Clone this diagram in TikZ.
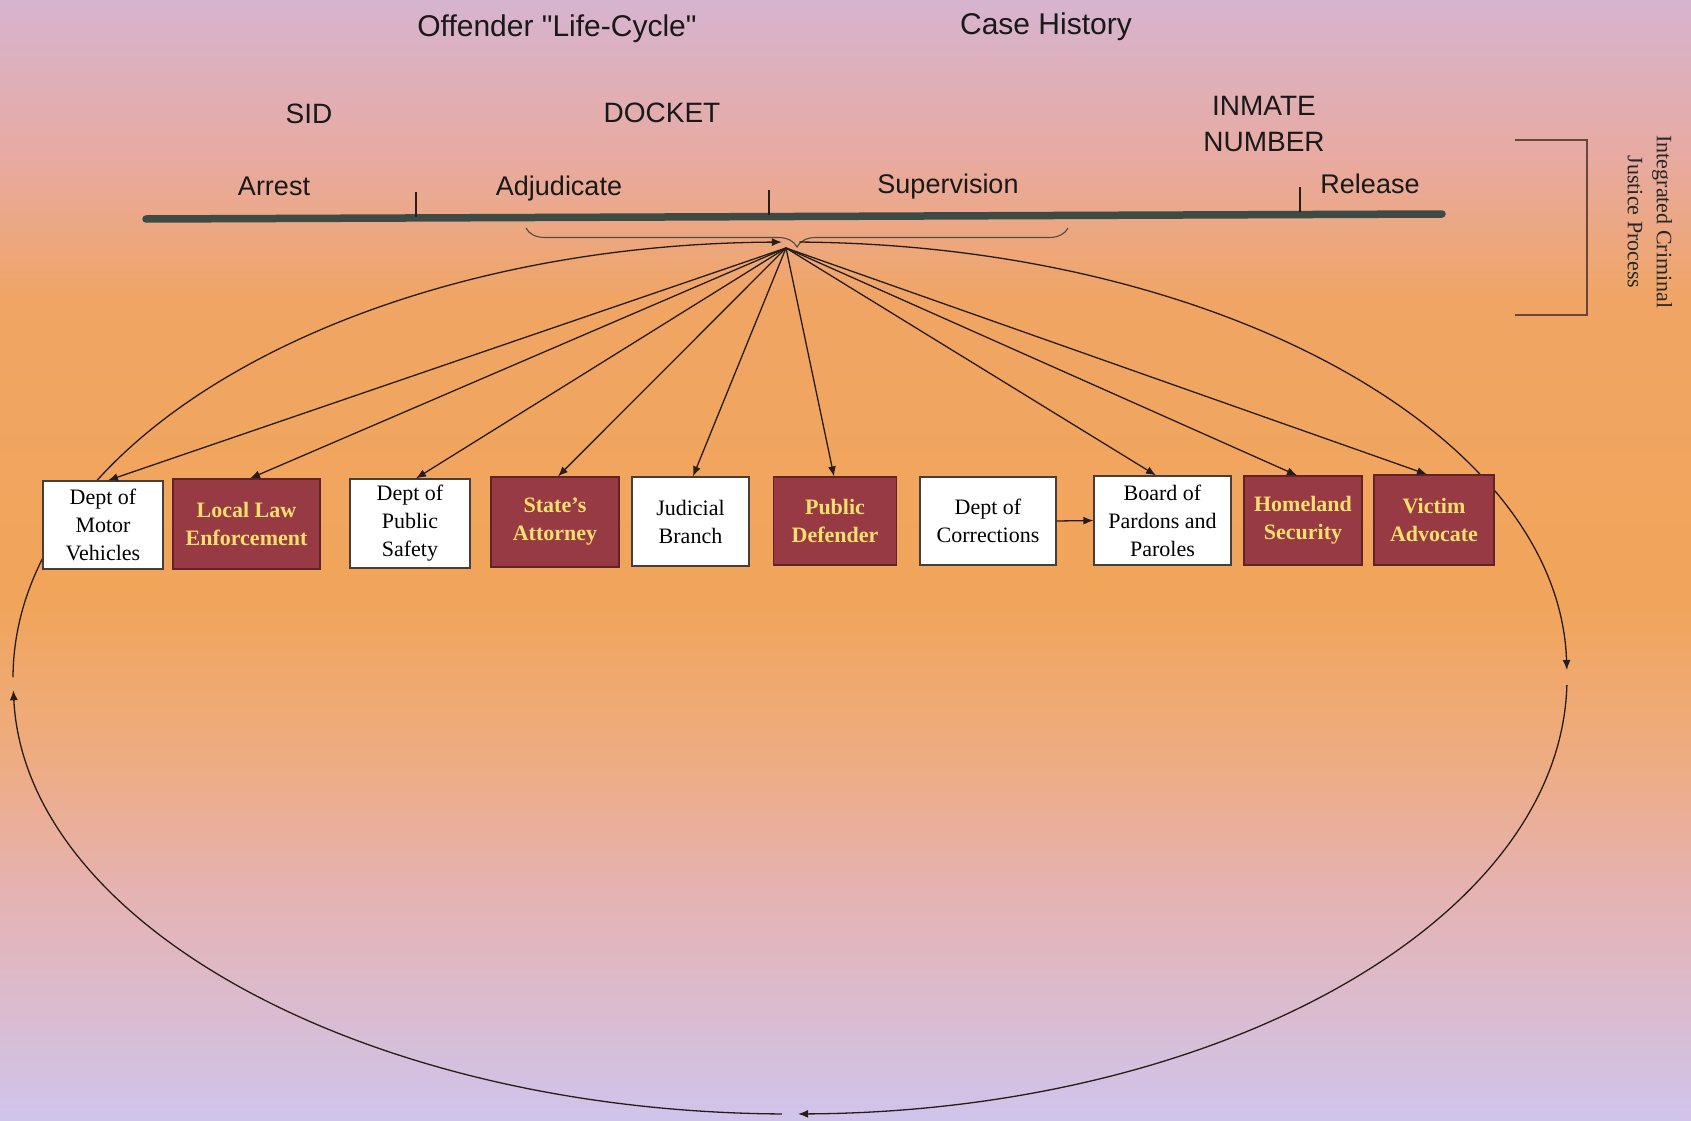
\documentclass[tikz,border=0pt]{standalone}
\usepackage{fontspec}
\setmainfont{Liberation Serif}
\newfontfamily\arialf{Liberation Sans}
\usetikzlibrary{arrows.meta,decorations.pathreplacing}
\definecolor{bgA}{RGB}{214,180,208}
\definecolor{bgB}{RGB}{232,170,160}
\definecolor{bgC}{RGB}{240,165,100}
\definecolor{bgD}{RGB}{241,165,90}
\definecolor{bgE}{RGB}{238,172,130}
\definecolor{bgF}{RGB}{230,178,175}
\definecolor{bgG}{RGB}{208,196,236}
\definecolor{maroon}{RGB}{152,58,68}
\definecolor{maroonedge}{RGB}{95,35,40}
\definecolor{ytext}{RGB}{248,224,110}
\definecolor{ink}{RGB}{40,28,22}
\definecolor{barc}{RGB}{62,74,68}
\definecolor{brk}{RGB}{105,70,60}
\tikzset{
  wbox/.style={draw=ink!85, fill=white, line width=1.2pt, align=center, inner sep=0pt,
    font=\fontsize{22}{28}\selectfont, text=black},
  mbox/.style={draw=maroonedge, fill=maroon, line width=1.2pt, align=center, inner sep=0pt,
    font=\fontsize{22}{28}\selectfont\bfseries, text=ytext},
  conn/.style={draw=ink, line width=1.3pt, -{Latex[length=10pt,width=8pt]}},
  loopc/.style={draw=ink, line width=1.3pt, -{Latex[length=10pt,width=8pt]}},
  lblT/.style={font=\arialf\fontsize{30}{34}\selectfont, text=black!90, anchor=base},
  lblM/.style={font=\arialf\fontsize{28}{32}\selectfont, text=black!90, anchor=base},
  lblB/.style={font=\arialf\fontsize{27}{31}\selectfont, text=black!90, anchor=base},
}
\begin{document}
\begin{tikzpicture}[x=1pt,y=-1pt]
% background
\useasboundingbox (0,0) rectangle (1691,1121);
\shade[top color=bgA, bottom color=bgB] (0,0) rectangle (1691,161);
\shade[top color=bgB, bottom color=bgC] (0,160) rectangle (1691,301);
\shade[top color=bgC, bottom color=bgD] (0,300) rectangle (1691,601);
\shade[top color=bgD, bottom color=bgE] (0,600) rectangle (1691,761);
\shade[top color=bgE, bottom color=bgF] (0,760) rectangle (1691,881);
\shade[top color=bgF, bottom color=bgG] (0,880) rectangle (1691,1121);

% titles
\node[lblT] (t1) at (557,37) {Offender "Life-Cycle"};
\node[lblT] (t2) at (1046,35) {Case History};
\node[lblM] (sid) at (309,124) {SID};
\node[lblM] (dock) at (662,123) {DOCKET};
\node[lblM] (inm) at (1264,116) {INMATE};
\node[lblM] (num) at (1264,151) {NUMBER};
\node[lblB] (arr) at (274,195) {Arrest};
\node[lblB] (adj) at (559,195) {Adjudicate};
\node[lblB] (sup) at (948,193) {Supervision};
\node[lblB] (rel) at (1370,193) {Release};

% timeline
\coordinate (tl0) at (146,219);
\coordinate (tl1) at (1442,214);
\draw[barc, line width=7.5pt, line cap=round] (tl0) -- (tl1);
\draw[ink, line width=1.2pt] (416,192) -- (416,217);
\draw[ink, line width=1.2pt] (769,190) -- (769,215);
\draw[ink, line width=1.2pt] (1300,187) -- (1300,212);

% brace
\coordinate (brL) at (526,228);
\coordinate (brR) at (1068,228);
\draw[ink!80, line width=1.1pt, decorate, decoration={brace, mirror, amplitude=19pt}] (brL) -- (brR);

% big loop (ellipse centre (790,678), radii 777 x 436)
\coordinate (ec) at (790,678);
\draw[loopc] (ec) ++(270.7:777 and 436) arc[start angle=270.7, end angle=358.95, x radius=777, y radius=436];
\draw[loopc] (ec) ++(0.92:777 and 436) arc[start angle=0.92, end angle=89.4, x radius=777, y radius=436];
\draw[loopc] (ec) ++(90.6:777 and 436) arc[start angle=90.6, end angle=178.4, x radius=777, y radius=436];
\draw[loopc] (ec) ++(180.1:777 and 436) arc[start angle=180.1, end angle=269.4, x radius=777, y radius=436];

% boxes
\node[wbox, minimum width=120pt, minimum height=88pt] (dmv) at (103,525) {Dept of\\Motor\\Vehicles};
\node[mbox, minimum width=147pt, minimum height=90pt] (lle) at (246.5,524) {Local Law\\Enforcement};
\node[wbox, minimum width=120pt, minimum height=89pt] (dps) at (410,523.5) {Dept of\\Public\\Safety};
\node[mbox, minimum width=128pt, minimum height=90pt] (sa) at (555,522) {State's\\Attorney};
\node[wbox, minimum width=117pt, minimum height=89pt] (jb) at (690.5,521.5) {Judicial\\Branch};
\node[mbox, minimum width=123pt, minimum height=88pt] (pd) at (835,521) {Public\\Defender};
\node[wbox, minimum width=136pt, minimum height=88pt] (doc) at (988,521) {Dept of\\Corrections};
\node[wbox, minimum width=137pt, minimum height=89pt] (bpp) at (1162.5,520.5) {Board of\\Pardons and\\Paroles};
\node[mbox, minimum width=118pt, minimum height=89pt] (hs) at (1303,520.5) {Homeland\\Security};
\node[mbox, minimum width=120pt, minimum height=90pt] (va) at (1434,520) {Victim\\Advocate};

% hub arrows
\coordinate (hub) at (786,248);
\foreach \b/\dx in {dmv/5,lle/3.5,dps/6,sa/3,jb/2.5,pd/-1,bpp/-6.5,hs/-6,va/-7} {
  \draw[conn] (hub) -- ([xshift=\dx pt]\b.north);
}
\draw[conn] (doc.east) -- (bpp.west);

% right bracket and label
\coordinate (bk1) at (1515,140);
\coordinate (bk2) at (1587,140);
\coordinate (bk3) at (1587,315);
\coordinate (bk4) at (1515,315);
\draw[brk, line width=1.5pt] (bk1) -- (bk2) -- (bk3) -- (bk4);
\node[rotate=-90, align=center, font=\fontsize{22}{29}\selectfont, text=black!85] (icj) at (1650,222) {Integrated Criminal\\Justice Process};
\end{tikzpicture}
\end{document}
